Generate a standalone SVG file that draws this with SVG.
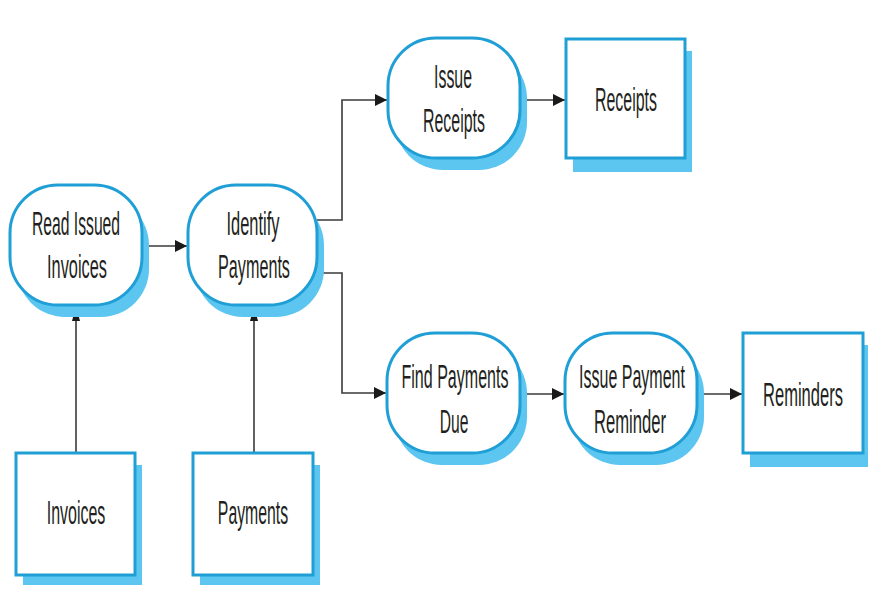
<svg xmlns="http://www.w3.org/2000/svg" width="891" height="613" viewBox="0 0 891 613">
<defs>
<style>
.sh{fill:#5cc6f0}
.bd{fill:#fff;stroke:#1f9fd5;stroke-width:3}
.t{font-family:"Liberation Sans",Arial,sans-serif;font-size:34px;fill:#231f20;text-anchor:middle}
.c{fill:none;stroke:#3a3a3a;stroke-width:1.6}
</style>
<marker id="ah" viewBox="0 0 12 12" refX="12" refY="6" markerWidth="12" markerHeight="12" markerUnits="userSpaceOnUse" orient="auto">
<path d="M0,0 L12,6 L0,12 z" fill="#1a1a1a"/>
</marker>
<marker id="av" viewBox="0 0 15 8" refX="15" refY="4" markerWidth="15" markerHeight="8" markerUnits="userSpaceOnUse" orient="auto">
<path d="M0,0 L15,4 L0,8 z" fill="#1a1a1a"/>
</marker>
</defs>
<rect width="891" height="613" fill="#fff"/>
<g id="connectors">
<path class="c" d="M142,246 H187" marker-end="url(#ah)"/>
<path class="c" d="M317,220 H342 V100 H387" marker-end="url(#ah)"/>
<path class="c" d="M317,273 H342 V393 H386" marker-end="url(#ah)"/>
<path class="c" d="M520,100 H565" marker-end="url(#ah)"/>
<path class="c" d="M520,394 H564" marker-end="url(#ah)"/>
<path class="c" d="M697,394 H742" marker-end="url(#ah)"/>
<path class="c" d="M76,453 V306" marker-end="url(#av)"/>
<path class="c" d="M254,453 V306" marker-end="url(#av)"/>
</g>
<g id="read-issued-invoices">
<rect class="sh" x="17" y="197" width="132" height="120" rx="48"/>
<rect class="bd" x="10" y="185" width="132" height="120" rx="48"/>
<text class="t" transform="translate(76,235) scale(0.462,1)">Read Issued</text>
<text class="t" transform="translate(77,278) scale(0.48,1)">Invoices</text>
</g>
<g id="identify-payments">
<rect class="sh" x="195" y="197" width="129" height="120" rx="48"/>
<rect class="bd" x="188" y="185" width="129" height="120" rx="48"/>
<text class="t" transform="translate(253,235) scale(0.484,1)">Identify</text>
<text class="t" transform="translate(254,278) scale(0.476,1)">Payments</text>
</g>
<g id="issue-receipts">
<rect class="sh" x="395" y="50" width="132" height="120" rx="48"/>
<rect class="bd" x="388" y="38" width="132" height="120" rx="48"/>
<text class="t" transform="translate(453,88) scale(0.467,1)">Issue</text>
<text class="t" transform="translate(454,132) scale(0.469,1)">Receipts</text>
</g>
<g id="receipts">
<rect class="sh" x="573" y="51" width="119" height="121"/>
<rect class="bd" x="566" y="39" width="119" height="119"/>
<text class="t" transform="translate(626,111) scale(0.469,1)">Receipts</text>
</g>
<g id="find-payments-due">
<rect class="sh" x="394" y="345" width="133" height="120" rx="48"/>
<rect class="bd" x="387" y="333" width="133" height="120" rx="48"/>
<text class="t" transform="translate(455,388) scale(0.472,1)">Find Payments</text>
<text class="t" transform="translate(454,433) scale(0.46,1)">Due</text>
</g>
<g id="issue-payment-reminder">
<rect class="sh" x="572" y="345" width="132" height="120" rx="48"/>
<rect class="bd" x="565" y="333" width="132" height="120" rx="48"/>
<text class="t" transform="translate(632,388) scale(0.471,1)">Issue Payment</text>
<text class="t" transform="translate(630,433) scale(0.49,1)">Reminder</text>
</g>
<g id="reminders">
<rect class="sh" x="750" y="345" width="118" height="122"/>
<rect class="bd" x="743" y="333" width="120" height="120"/>
<text class="t" transform="translate(803,406) scale(0.487,1)">Reminders</text>
</g>
<g id="invoices">
<rect class="sh" x="23" y="465" width="119" height="120"/>
<rect class="bd" x="16" y="453" width="119" height="122"/>
<text class="t" transform="translate(76,524) scale(0.47,1)">Invoices</text>
</g>
<g id="payments">
<rect class="sh" x="200" y="465" width="120" height="120"/>
<rect class="bd" x="193" y="453" width="120" height="122"/>
<text class="t" transform="translate(253,524) scale(0.465,1)">Payments</text>
</g>
</svg>
